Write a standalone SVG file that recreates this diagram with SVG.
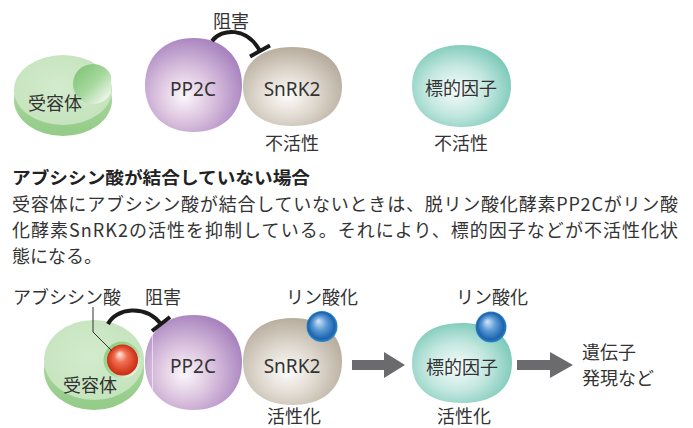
<svg xmlns="http://www.w3.org/2000/svg" width="693" height="428" viewBox="0 0 693 428">
  <defs>
    <style>
      .jp { font-family: "Noto Sans CJK JP", "Noto Sans", sans-serif; fill: #333; font-size: 18px; }
      .lat { font-family: "Noto Sans", "Noto Sans CJK JP", sans-serif; fill: #333; font-size: 19px; }
      .mid { text-anchor: middle; }
      .title { font-family: "Noto Sans CJK JP", sans-serif; font-weight: bold; fill: #222; font-size: 17px; }
      .body { font-family: "Noto Sans CJK JP", sans-serif; fill: #333; font-size: 18px; }
      .inhib { fill: none; stroke: #1a1a1a; stroke-width: 4; stroke-linecap: butt; }
      .bigarrow { fill: #6b6b6e; }
    </style>
    <radialGradient id="gPP2C" cx="0.42" cy="0.6" r="0.62" fx="0.4" fy="0.62">
      <stop offset="0" stop-color="#fbf7fb"/>
      <stop offset="0.45" stop-color="#dcc4df"/>
      <stop offset="1" stop-color="#a883bf"/>
    </radialGradient>
    <radialGradient id="gSnRK2" cx="0.45" cy="0.6" r="0.62" fx="0.45" fy="0.62">
      <stop offset="0" stop-color="#fdfcfa"/>
      <stop offset="0.5" stop-color="#ddd6cc"/>
      <stop offset="1" stop-color="#b5aa9b"/>
    </radialGradient>
    <radialGradient id="gTarget" cx="0.45" cy="0.55" r="0.62" fx="0.45" fy="0.55">
      <stop offset="0" stop-color="#f8fcfb"/>
      <stop offset="0.5" stop-color="#c2e7df"/>
      <stop offset="1" stop-color="#72c5b4"/>
    </radialGradient>
    <linearGradient id="gSide" x1="0" y1="0" x2="0" y2="1">
      <stop offset="0" stop-color="#b4dcaa"/>
      <stop offset="1" stop-color="#93cb87"/>
    </linearGradient>
    <radialGradient id="gFace" cx="0.45" cy="0.45" r="0.6">
      <stop offset="0" stop-color="#d3ebcd"/>
      <stop offset="1" stop-color="#c4e3bc"/>
    </radialGradient>
    <linearGradient id="gNotch" x1="0.1" y1="0.1" x2="0.9" y2="0.9">
      <stop offset="0" stop-color="#82c578"/>
      <stop offset="0.5" stop-color="#a6d89d"/>
      <stop offset="1" stop-color="#f4faf2"/>
    </linearGradient>
    <radialGradient id="gBlue" cx="0.5" cy="0.5" r="0.5" fx="0.38" fy="0.32">
      <stop offset="0" stop-color="#d6e6f6"/>
      <stop offset="0.45" stop-color="#5b9ad6"/>
      <stop offset="0.86" stop-color="#1d63ad"/>
      <stop offset="1" stop-color="#2c8ac8"/>
    </radialGradient>
    <radialGradient id="gRed" cx="0.5" cy="0.5" r="0.5" fx="0.4" fy="0.3">
      <stop offset="0" stop-color="#fff1ea"/>
      <stop offset="0.4" stop-color="#f07052"/>
      <stop offset="1" stop-color="#cc2a10"/>
    </radialGradient>
    <linearGradient id="gHalo" x1="0.1" y1="0.1" x2="0.9" y2="0.9">
      <stop offset="0" stop-color="#8fce84"/>
      <stop offset="0.6" stop-color="#a8d99e"/>
      <stop offset="1" stop-color="#eef7ec"/>
    </linearGradient>
    <clipPath id="notchClip">
      <rect x="0" y="0" width="111" height="200"/>
    </clipPath>
  </defs>

  <!-- ===== upper scheme: no ABA bound ===== -->
  <g id="receptor-top">
    <ellipse cx="63" cy="100" rx="49" ry="36" fill="url(#gSide)"/>
    <ellipse cx="63" cy="90" rx="49" ry="35" fill="url(#gFace)"/>
    <circle cx="93" cy="84" r="20" fill="url(#gNotch)" clip-path="url(#notchClip)"/>
    <text class="jp mid" x="55" y="110">受容体</text>
  </g>

  <g id="snrk2-top">
    <path d="M243,86.5 C243,62 262,47 292.5,47 C323,47 342,62 342,86.5 C342,111 323,126 292.5,126 C262,126 243,111 243,86.5 Z" fill="url(#gSnRK2)"/>
    <text class="lat mid" x="292" y="96">SnRK2</text>
    <text class="jp mid" x="292" y="150">不活性</text>
  </g>

  <g id="pp2c-top">
    <path d="M145,85 C145,56 165,38 193.5,38 C222,38 242,56 242,85 C242,114 222,132 193.5,132 C165,132 145,114 145,85 Z" fill="url(#gPP2C)"/>
    <text class="lat mid" x="193" y="96">PP2C</text>
  </g>

  <g id="target-top">
    <path d="M412,86 C412,61 431,45 461.5,45 C492,45 511,61 511,86 C511,111 492,127 461.5,127 C431,127 412,111 412,86 Z" fill="url(#gTarget)"/>
    <text class="jp mid" x="461" y="95">標的因子</text>
    <text class="jp mid" x="461" y="150">不活性</text>
  </g>

  <g id="connectors-top">
    <path class="inhib" d="M212,41 C222,28 247,27 260,51"/>
    <line class="inhib" x1="250" y1="56.5" x2="270" y2="45.5"/>
    <text class="jp mid" x="231" y="28">阻害</text>
  </g>

  <!-- ===== caption ===== -->
  <g id="caption">
    <text class="title" x="12" y="184" textLength="298" lengthAdjust="spacingAndGlyphs">アブシシン酸が結合していない場合</text>
    <text class="body" x="12" y="211" textLength="666">受容体にアブシシン酸が結合していないときは、脱リン酸化酵素PP2Cがリン酸</text>
    <text class="body" x="12" y="237" textLength="666">化酵素SnRK2の活性を抑制している。それにより、標的因子などが不活性化状</text>
    <text class="body" x="12" y="263">態になる。</text>
  </g>

  <!-- ===== lower scheme: ABA bound ===== -->
  <g id="receptor-bottom">
    <ellipse cx="94" cy="370" rx="50" ry="40" fill="url(#gSide)"/>
    <ellipse cx="94" cy="360" rx="50" ry="40" fill="url(#gFace)"/>
    <text class="jp mid" x="90" y="392">受容体</text>
  </g>

  <g id="aba">
    <circle cx="122" cy="360" r="18.5" fill="url(#gHalo)"/>
    <circle cx="122.5" cy="360" r="15.5" fill="url(#gRed)"/>
    <text class="jp mid" x="67" y="304">アブシシン酸</text>
  </g>

  <g id="snrk2-bottom">
    <path d="M243,361.5 C243,334 262,318 292.5,318 C323,318 342,334 342,361.5 C342,389 323,405 292.5,405 C262,405 243,389 243,361.5 Z" fill="url(#gSnRK2)"/>
    <text class="lat mid" x="292" y="373">SnRK2</text>
    <text class="jp mid" x="294" y="423">活性化</text>
  </g>

  <g id="pp2c-bottom">
    <path d="M145,362.5 C145,333 165,315 193.5,315 C222,315 242,333 242,362.5 C242,392 222,410 193.5,410 C165,410 145,392 145,362.5 Z" fill="url(#gPP2C)"/>
    <line x1="152.5" y1="334" x2="152.5" y2="392" stroke="#ffffff" stroke-opacity="0.55" stroke-width="1"/>
    <text class="lat mid" x="193" y="373">PP2C</text>
  </g>

  <g id="phospho-snrk2">
    <circle cx="322" cy="326.5" r="15.5" fill="url(#gBlue)"/>
    <text class="jp mid" x="322" y="304">リン酸化</text>
  </g>

  <g id="target-bottom">
    <path d="M412,363 C412,337 431,323 462,323 C493,323 512,337 512,363 C512,389 493,403 462,403 C431,403 412,389 412,363 Z" fill="url(#gTarget)"/>
    <text class="jp mid" x="462" y="374">標的因子</text>
    <text class="jp mid" x="464" y="423">活性化</text>
  </g>

  <g id="phospho-target">
    <circle cx="491" cy="327" r="15.5" fill="url(#gBlue)"/>
    <text class="jp mid" x="492" y="304">リン酸化</text>
  </g>

  <g id="output">
    <text class="jp" x="582" y="359">遺伝子</text>
    <text class="jp" x="582" y="385">発現など</text>
  </g>

  <g id="connectors-bottom">
    <polyline points="93,307 93,332 112,351" fill="none" stroke="#333" stroke-width="1"/>
    <path class="inhib" d="M108,324 C116,308 145,304 161,324"/>
    <line class="inhib" x1="152" y1="331" x2="170" y2="317"/>
    <text class="jp mid" x="163" y="304">阻害</text>
    <polygon class="bigarrow" points="352,360 384,360 384,352 405,365 384,378 384,370 352,370"/>
    <polygon class="bigarrow" points="517,360 550,360 550,352 573,365 550,378 550,370 517,370"/>
  </g>
</svg>
